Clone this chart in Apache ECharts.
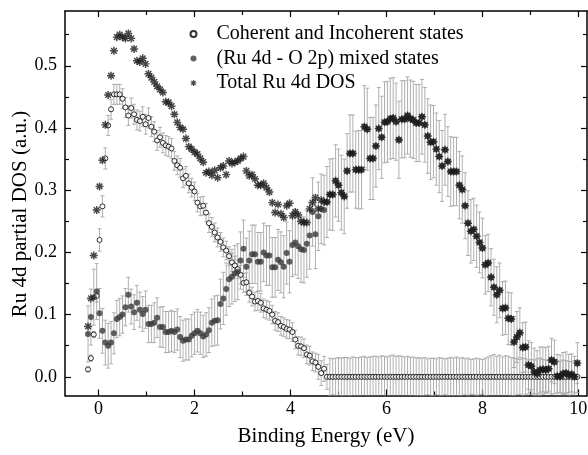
<!DOCTYPE html>
<html><head><meta charset="utf-8">
<script src="https://cdn.jsdelivr.net/npm/echarts@6/dist/echarts.min.js"></script>
<style>html,body{margin:0;padding:0;background:#fff}#c{width:588px;height:455px}</style>
</head><body><div id="c"></div>
<script>
const energy = [
-0.22,-0.16,-0.10,-0.04,0.02,0.08,0.14,0.20,0.26,0.32,
0.38,0.44,0.50,0.56,0.62,0.68,0.74,0.80,0.86,0.92,
0.98,1.04,1.10,1.16,1.22,1.28,1.34,1.40,1.46,1.52,
1.58,1.64,1.70,1.76,1.82,1.88,1.94,2.00,2.06,2.12,
2.18,2.24,2.30,2.36,2.42,2.48,2.54,2.60,2.66,2.72,
2.78,2.84,2.90,2.96,3.02,3.08,3.14,3.20,3.26,3.32,
3.38,3.44,3.50,3.56,3.62,3.68,3.74,3.80,3.86,3.92,
3.98,4.04,4.10,4.16,4.22,4.28,4.34,4.40,4.46,4.52,
4.58,4.64,4.70,4.76,4.82,4.88,4.94,5.00,5.06,5.12,
5.18,5.24,5.30,5.36,5.42,5.48,5.54,5.60,5.66,5.72,
5.78,5.84,5.90,5.96,6.02,6.08,6.14,6.20,6.26,6.32,
6.38,6.44,6.50,6.56,6.62,6.68,6.74,6.80,6.86,6.92,
6.98,7.04,7.10,7.16,7.22,7.28,7.34,7.40,7.46,7.52,
7.58,7.64,7.70,7.76,7.82,7.88,7.94,8.00,8.06,8.12,
8.18,8.24,8.30,8.36,8.42,8.48,8.54,8.60,8.66,8.72,
8.78,8.84,8.90,8.96,9.02,9.08,9.14,9.20,9.26,9.32,
9.38,9.44,9.50,9.56,9.62,9.68,9.74,9.80,9.86,9.92,
9.98];

const coherent = [
.012,.030,.068,.130,.220,.274,.351,.404,.430,.454,
.454,.454,.447,.433,.420,.432,.422,.413,.411,.418,
.406,.416,.402,.394,.380,.385,.376,.372,.370,.367,
.347,.340,.336,.319,.323,.311,.304,.298,.280,.274,
.275,.264,.247,.241,.232,.224,.217,.208,.203,.194,
.184,.179,.173,.164,.151,.152,.135,.129,.121,.122,
.119,.110,.108,.106,.100,.090,.088,.082,.080,.077,
.076,.072,.060,.050,.049,.046,.036,.034,.025,.023,
.016,.006,.013,0,0,0,0,0,0,0,
0,0,0,0,0,0,0,0,0,0,
0,0,0,0,0,0,0,0,0,0,
0,0,0,0,0,0,0,0,0,0,
0,0,0,0,0,0,0,0,0,0,
0,0,0,0,0,0,0,0,0,0,
0,0,0,0,0,0,0,0,0,0,
0,0,0,0,0,0,0,0,0,0,
0,0,0,0,0,0,0,0,0,0,
0];

const coherentErr = [
.004,.005,.005,.010,.018,.017,.017,.016,.016,.016,
.016,.016,.016,.016,.016,.016,.016,.016,.016,.016,
.016,.016,.016,.016,.016,.016,.016,.016,.016,.016,
.015,.015,.015,.015,.015,.015,.015,.015,.015,.015,
.015,.015,.015,.015,.015,.015,.015,.015,.015,.015,
.015,.015,.015,.015,.015,.015,.015,.015,.015,.015,
.015,.015,.015,.015,.015,.015,.015,.015,.015,.015,
.015,.015,.015,.015,.015,.015,.015,.015,.015,.015,
.020,.020,.020,.020,.030,.029,.030,.031,.030,.031,
.031,.030,.032,.031,.031,.032,.033,.031,.032,.033,
.033,.032,.034,.033,.032,.034,.035,.033,.034,.033,
.032,.033,.031,.032,.030,.031,.030,.031,.029,.030,
.030,.029,.031,.030,.029,.030,.031,.030,.032,.030,
.031,.029,.030,.028,.029,.030,.029,.028,.030,.032,
.034,.036,.033,.035,.032,.034,.033,.031,.030,.029,
.028,.030,.029,.027,.028,.027,.029,.030,.028,.027,
.026,.028,.027,.026,.025,.027,.026,.025,.024,.026,
.025];

const mixed = [
.069,.096,.128,.137,.102,.074,.055,.050,.055,.070,
.093,.096,.100,.112,.132,.113,.104,.119,.108,.101,
.108,.085,.085,.087,.095,.080,.080,.072,.072,.074,
.072,.076,.064,.058,.060,.060,.066,.070,.074,.070,
.065,.068,.075,.087,.090,.091,.117,.126,.141,.157,
.161,.166,.169,.187,.206,.177,.187,.197,.197,.185,
.185,.200,.195,.195,.176,.176,.188,.184,.177,.199,
.185,.212,.216,.210,.205,.204,.214,.227,.265,.229,
.258,.270,.268,.281,.293,.293,.315,.308,.296,.290,
.331,.359,.359,.333,.333,.333,.402,.398,.351,.351,
.371,.399,.385,.409,.410,.415,.416,.410,.381,.414,
.414,.420,.415,.413,.408,.408,.418,.405,.387,.377,
.378,.366,.354,.339,.365,.346,.330,.330,.330,.308,
.301,.275,.247,.234,.237,.226,.216,.207,.180,.183,
.160,.144,.132,.139,.110,.111,.094,.093,.056,.064,
.071,.047,.048,.019,.017,.008,.005,.011,.012,.011,
.013,.027,.024,.001,.001,.005,.006,.003,.004,.000,
.022];

const mixedErr = [
.045,.045,.045,.045,.040,.036,.036,.036,.034,.033,
.030,.030,.030,.030,.028,.028,.028,.028,.028,.028,
.030,.030,.030,.032,.032,.032,.033,.033,.033,.033,
.033,.033,.033,.033,.033,.033,.034,.034,.034,.034,
.034,.035,.036,.038,.040,.040,.040,.042,.042,.044,
.044,.045,.045,.046,.046,.046,.047,.047,.047,.047,
.047,.047,.048,.048,.048,.048,.049,.049,.050,.050,
.050,.051,.052,.052,.053,.053,.054,.054,.055,.055,
.055,.056,.056,.057,.057,.058,.058,.058,.060,.060,
.060,.062,.062,.062,.063,.063,.066,.066,.066,.066,
.066,.066,.066,.065,.065,.065,.065,.062,.062,.062,
.062,.062,.062,.062,.062,.062,.060,.060,.060,.060,
.058,.058,.058,.057,.057,.056,.056,.055,.055,.054,
.054,.053,.052,.051,.050,.050,.049,.048,.047,.046,
.046,.045,.045,.044,.043,.043,.042,.042,.041,.041,
.040,.040,.040,.039,.038,.038,.037,.037,.036,.036,
.036,.035,.035,.035,.034,.034,.034,.033,.033,.033,
.033];

const total = [
.081,.126,.195,.268,.306,.348,.405,.453,.484,.524,
.546,.550,.546,.544,.552,.544,.527,.508,.506,.512,
.503,.487,.481,.474,.467,.462,.457,.442,.441,.435,
.422,.409,.401,.398,.383,.370,.366,.361,.358,.351,
.345,.328,.330,.324,.332,.320,.336,.339,.325,.347,
.343,.345,.347,.351,.354,.331,.323,.325,.318,.308,
.308,.311,.304,.297,.280,.264,.277,.262,.256,.275,
.279,.259,.265,.260,.250,.248,.248,.270,.280,.288,
.270,.284,.281,.281,.293,.293,.315,.308,.296,.290,
.331,.359,.359,.333,.333,.333,.402,.398,.351,.351,
.371,.399,.385,.409,.410,.415,.416,.410,.381,.414,
.414,.420,.415,.413,.408,.408,.418,.405,.387,.377,
.378,.366,.354,.339,.365,.346,.330,.330,.330,.308,
.301,.275,.247,.234,.237,.226,.216,.207,.180,.183,
.160,.144,.132,.139,.110,.111,.094,.093,.056,.064,
.071,.047,.048,.019,.017,.008,.005,.011,.012,.011,
.013,.027,.024,.001,.001,.005,.006,.003,.004,.000,
.022];

const seriesNames = ['Coherent and Incoherent states', '(Ru 4d - O 2p) mixed states', 'Total Ru 4d DOS'];
const xMajorTicks = [0, 2, 4, 6, 8, 10];
const xMinorTicks = [1, 3, 5, 7, 9];
const yMajorTicks = [0, 0.1, 0.2, 0.3, 0.4, 0.5];
const yMinorTicks = [0.05, 0.15, 0.25, 0.35, 0.45, 0.55];
const xTitle = 'Binding Energy (eV)';
const yTitle = 'Ru 4d partial DOS (a.u.)';

const X_MIN = -0.7, X_MAX = 10.18, Y_MIN = -0.03, Y_MAX = 0.588;
const FONT = 'Liberation Serif';
const ASTERISK = 'path://M-0.9,-5h1.8v10h-1.8z M-5,-0.9h10v1.8h-10z M-4.2,-2.9L-2.9,-4.2L4.2,2.9L2.9,4.2Z M2.9,-4.2L4.2,-2.9L-2.9,4.2L-4.2,2.9Z';

function axis(kind, gridIndex, pos, vals, len, showLine, showLabel, extra) {
  const a = {
    type: 'value', gridIndex: gridIndex, position: pos,
    min: kind === 'x' ? X_MIN : Y_MIN, max: kind === 'x' ? X_MAX : Y_MAX,
    axisLine: {show: showLine, onZero: false, lineStyle: {color: '#000', width: 1.5}},
    axisTick: {show: true, inside: true, length: len, customValues: vals, lineStyle: {color: '#000', width: 1.2}},
    axisLabel: {show: showLabel, customValues: vals, color: '#000', fontFamily: FONT, fontSize: 18,
      margin: kind === 'x' ? 5 : 8,
      formatter: kind === 'x' ? (v => String(v)) : (v => v.toFixed(1))},
    splitLine: {show: false}, minorTick: {show: false}, minorSplitLine: {show: false}
  };
  return Object.assign(a, extra || {});
}

function errItem(params, api) {
  const x = api.value(0), y = api.value(1), e = api.value(2);
  const t = api.coord([x, y + e]), b = api.coord([x, y - e]);
  const hw = 2;
  const st = {stroke: '#a6a6a6', lineWidth: 0.9};
  return {type: 'group', children: [
    {type: 'line', shape: {x1: t[0], y1: t[1], x2: b[0], y2: b[1]}, style: st},
    {type: 'line', shape: {x1: t[0] - hw, y1: t[1], x2: t[0] + hw, y2: t[1]}, style: st},
    {type: 'line', shape: {x1: b[0] - hw, y1: b[1], x2: b[0] + hw, y2: b[1]}, style: st}
  ]};
}

const gridRect = {left: 65, right: 1, top: 11, bottom: 59.5, containLabel: false, outerBoundsMode: 'none'};
const chart = echarts.init(document.getElementById('c'), null, {renderer: 'canvas'});
chart.setOption({
  animation: false,
  backgroundColor: '#fff',
  grid: [Object.assign({}, gridRect), Object.assign({}, gridRect)],
  legend: {
    orient: 'vertical', left: 184.5, top: 19, itemWidth: 36, itemHeight: 6, itemGap: 4.5,
    selectedMode: false,
    textStyle: {fontFamily: FONT, fontSize: 20, color: '#000', lineHeight: 20},
    data: seriesNames
  },
  graphic: [{
    type: 'text', x: 20, y: 214, rotation: Math.PI / 2, silent: true,
    style: {text: yTitle, fontFamily: FONT, fontSize: 21, fill: '#000', align: 'center', verticalAlign: 'middle'}
  }],
  xAxis: [
    axis('x', 0, 'bottom', xMajorTicks, 6, true, true, {
      name: xTitle, nameLocation: 'middle', nameGap: 30,
      nameTextStyle: {fontFamily: FONT, fontSize: 21, color: '#000'}}),
    axis('x', 0, 'top', xMajorTicks, 6, true, false),
    axis('x', 1, 'bottom', xMinorTicks, 4, false, false),
    axis('x', 1, 'top', xMinorTicks, 4, false, false)
  ],
  yAxis: [
    axis('y', 0, 'left', yMajorTicks, 6, true, true),
    axis('y', 0, 'right', yMajorTicks, 6, true, false),
    axis('y', 1, 'left', yMinorTicks, 4, false, false),
    axis('y', 1, 'right', yMinorTicks, 4, false, false)
  ],
  series: [
    {type: 'custom', name: 'errC', xAxisIndex: 0, yAxisIndex: 0, clip: true, silent: true,
     renderItem: errItem, data: energy.map((x, i) => [x, coherent[i], coherentErr[i]]), z: 1},
    {type: 'custom', name: 'errM', xAxisIndex: 0, yAxisIndex: 0, clip: true, silent: true,
     renderItem: errItem, data: energy.map((x, i) => [x, mixed[i], mixedErr[i]]), z: 1},
    {type: 'scatter', name: seriesNames[0], xAxisIndex: 0, yAxisIndex: 0, symbol: 'circle', symbolSize: 5,
     itemStyle: {color: '#fff', borderColor: '#000', borderWidth: 1}, z: 3,
     data: energy.map((x, i) => [x, coherent[i]])},
    {type: 'scatter', name: seriesNames[1], xAxisIndex: 0, yAxisIndex: 0, symbol: 'circle', symbolSize: 6,
     itemStyle: {color: '#3a3a3a'}, z: 4,
     data: energy.map((x, i) => [x, mixed[i]])},
    {type: 'scatter', name: seriesNames[2], xAxisIndex: 0, yAxisIndex: 0, symbol: ASTERISK, symbolSize: 8,
     itemStyle: {color: '#1a1a1a'}, z: 5,
     data: energy.map((x, i) => [x, total[i]])}
  ]
});
</script></body></html>
